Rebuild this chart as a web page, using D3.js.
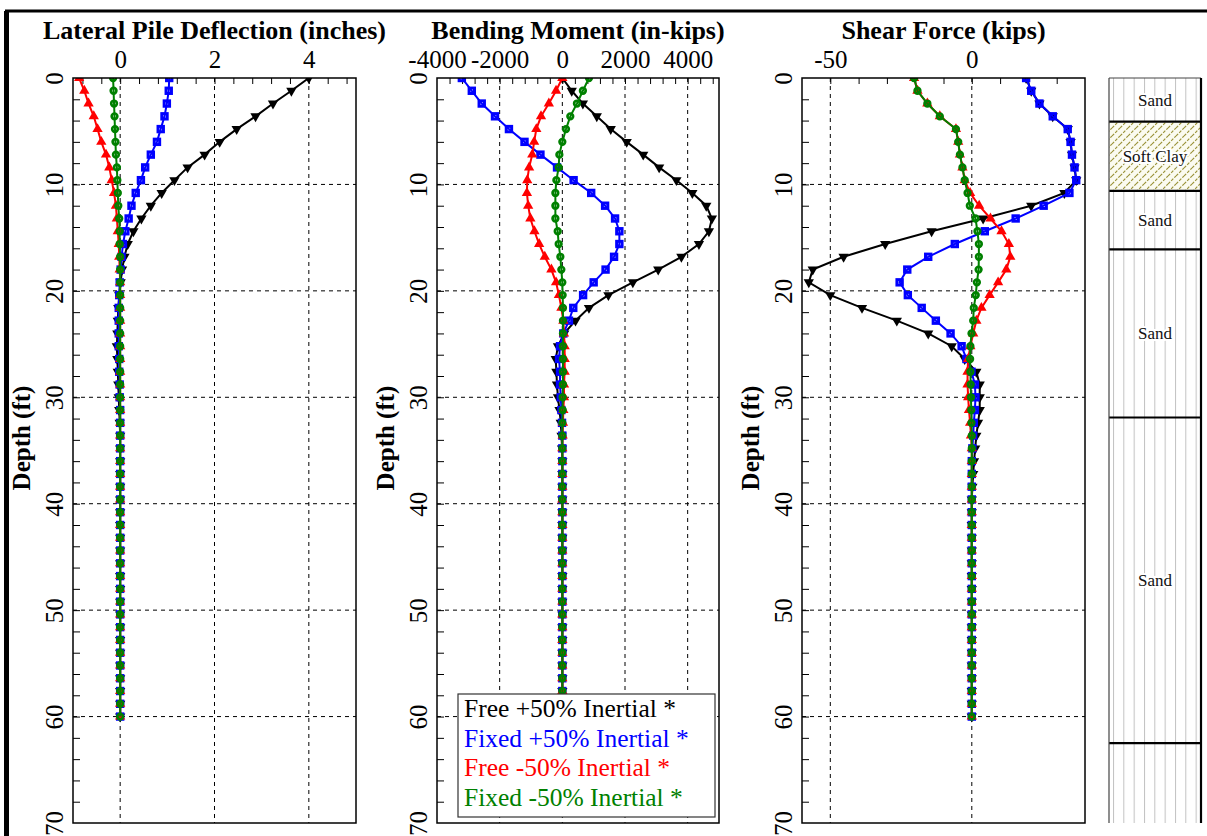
<!DOCTYPE html>
<html>
<head>
<meta charset="utf-8">
<script src="https://cdn.jsdelivr.net/npm/d3@7"></script>
<style>
body{margin:0;background:#fff;}
text{font-family:"Liberation Serif","Times New Roman",serif;}
</style>
</head>
<body>
<div id="chart"></div>
<script>
// depth of each pile node (ft)
const depth = [0,1.2,2.4,3.6,4.8,6,7.2,8.4,9.6,10.8,
  12,13.2,14.4,15.6,16.8,18,19.2,20.4,21.6,22.8,
  24,25.2,26.4,27.6,28.8,30,31.2,32.4,33.6,34.8,
  36,37.2,38.4,39.6,40.8,42,43.2,44.4,45.6,46.8,
  48,49.2,50.4,51.6,52.8,54,55.2,56.4,57.6,58.8,
  60];

const seriesNames = ['Free +50% Inertial *','Fixed +50% Inertial *','Free -50% Inertial *','Fixed -50% Inertial *'];

// lateral deflection (in)
const defFreePos = [4.00,3.63,3.24,2.87,2.47,2.11,1.79,1.43,1.15,0.88,
  0.65,0.45,0.28,0.16,0.09,0.04,0.01,-0.02,-0.04,-0.05,
  -0.06,-0.07,-0.06,-0.05,-0.04,-0.03,-0.02,-0.01,0,0,
  0,0,0,0,0,0,0,0,0,0,
  0,0,0,0,0,0,0,0,0,0,
  0];
const defFixedPos = [1.04,1.03,0.99,0.94,0.86,0.78,0.65,0.53,0.44,0.33,
  0.24,0.18,0.11,0.06,0.03,0.01,-0.01,-0.02,-0.03,-0.03,
  -0.03,-0.03,-0.02,-0.02,-0.01,-0.01,0,0,0,0,
  0,0,0,0,0,0,0,0,0,0,
  0,0,0,0,0,0,0,0,0,0,
  0];
const defFreeNeg = [-0.87,-0.76,-0.67,-0.56,-0.48,-0.40,-0.30,-0.23,-0.18,-0.13,
  -0.09,-0.07,-0.05,-0.03,-0.02,-0.01,0,0,0,0,
  0,0,0,0,0,0,0,0,0,0,
  0,0,0,0,0,0,0,0,0,0,
  0,0,0,0,0,0,0,0,0,0,
  0];
const defFixedNeg = [-0.15,-0.14,-0.13,-0.12,-0.11,-0.10,-0.09,-0.07,-0.06,-0.05,
  -0.04,-0.02,-0.01,-0.01,0,0,0,0,0,0,
  0,0,0,0,0,0,0,0,0,0,
  0,0,0,0,0,0,0,0,0,0,
  0,0,0,0,0,0,0,0,0,0,
  0];

// bending moment (in-kips)
const momFreePos = [0,300,656,1100,1545,2054,2582,3090,3641,4149,
  4594,4773,4678,4360,3800,3060,2250,1470,850,420,
  60,-140,-210,-190,-170,-140,-90,-50,-25,-10,
  0,0,0,0,0,0,0,0,0,0,
  0,0,0,0,0,0,0,0,0,0,
  0];
const momFixedPos = [-3207,-2889,-2572,-2149,-1704,-1207,-699,-169,360,921,
  1365,1683,1820,1820,1651,1380,1000,663,349,212,
  32,-74,-106,-74,-74,-50,-30,-10,0,0,
  0,0,0,0,0,0,0,0,0,0,
  0,0,0,0,0,0,0,0,0,0,
  0];
const momFreeNeg = [0,-200,-430,-680,-830,-900,-960,-1060,-1120,-1130,
  -1090,-1020,-890,-740,-560,-350,-200,-110,-30,32,
  53,74,74,74,53,53,32,20,10,0,
  0,0,0,0,0,0,0,0,0,0,
  0,0,0,0,0,0,0,0,0,0,
  0];
const momFixedNeg = [850,656,466,254,117,0,-95,-117,-190,-222,
  -222,-222,-148,-117,-63,-32,0,10,20,20,
  20,20,20,20,20,10,10,0,0,0,
  0,0,0,0,0,0,0,0,0,0,
  0,0,0,0,0,0,0,0,0,0,
  0];

// shear force (kips)
const shearFreePos = [19.2,21.0,23.9,28.6,33.9,34.9,35.4,36.3,36.9,32.7,
  21.0,4.0,-14.2,-30.6,-45.3,-56.2,-57.6,-50.0,-38.8,-26.5,
  -15.4,-7.1,-2.5,1.6,2.8,2.8,2.8,2.2,1.6,1.2,
  0.8,0.5,0.2,0,0,0,0,0,0,0,
  0,0,0,0,0,0,0,0,0,0,
  0];
const shearFixedPos = [19.2,21.0,23.9,28.6,33.9,34.9,35.4,36.3,36.9,34.5,
  25.4,15.5,4.6,-6.0,-15.4,-22.8,-25.5,-22.6,-17.7,-12.7,
  -7.5,-3.6,-1.9,-0.1,1.1,1.3,1.1,0.7,0.5,0.2,
  0,0,0,0,0,0,0,0,0,0,
  0,0,0,0,0,0,0,0,0,0,
  0];
const shearFreeNeg = [-20.4,-19.2,-15.7,-11.3,-5.6,-4.8,-4.2,-3.3,-2.5,-0.6,
  2.6,6.6,10.5,13.1,13.6,12.2,9.3,6.3,3.4,1.6,
  0.5,-0.5,-1.3,-1.5,-1.5,-1.3,-1.0,-0.6,-0.3,0,
  0,0,0,0,0,0,0,0,0,0,
  0,0,0,0,0,0,0,0,0,0,
  0];
const shearFixedNeg = [-20.4,-19.2,-15.7,-11.3,-5.6,-4.8,-4.2,-3.3,-2.5,-1.5,
  -0.7,1.3,2.0,2.5,2.5,2.4,1.8,1.4,0.7,0.5,
  -0.1,-0.5,-0.6,-0.5,-0.4,-0.3,-0.2,-0.1,0,0,
  0,0,0,0,0,0,0,0,0,0,
  0,0,0,0,0,0,0,0,0,0,
  0];

// tick labels
const defTicks = [0,2,4];
const momTicks = [-4000,-2000,0,2000,4000];
const shearTicks = [-50,0];
const depthTicks = [0,10,20,30,40,50,60,70];

// soil profile
const soilNames = ['Sand','Soft Clay','Sand','Sand','Sand',''];
const soilTops = [0,4.1,10.6,16.1,31.9,62.5];
const soilBottoms = [4.1,10.6,16.1,31.9,62.5,70];

const W = 1207, H = 836;
const plotTop = 78, plotBottom = 823;
const serif = '"Liberation Serif","Times New Roman",serif';
const colors = ['#000000','#0000ff','#ff0000','#008000'];
const markers = ['down','square','up','circle'];

const svg = d3.select('#chart')
  .append('svg')
  .attr('width',W)
  .attr('height',H);

const y = d3.scaleLinear().domain([0,70]).range([plotTop,plotBottom]);

const panels = [
  {title:'Lateral Pile Deflection (inches)', x0:73, x1:356, domain:[-1,5], minor:d3.range(-0.8,5,0.4), ticks:defTicks,
   series:[defFreePos,defFixedPos,defFreeNeg,defFixedNeg]},
  {title:'Bending Moment (in-kips)', x0:437, x1:719, domain:[-4000,5000], minor:d3.range(-3600,5000,400), ticks:momTicks,
   series:[momFreePos,momFixedPos,momFreeNeg,momFixedNeg]},
  {title:'Shear Force (kips)', x0:802, x1:1085, domain:[-60,40], minor:d3.range(-50,40,10), ticks:shearTicks,
   series:[shearFreePos,shearFixedPos,shearFreeNeg,shearFixedNeg]}
];

const defs = svg.append('defs');

panels.forEach(function(p,pi){
  const x = d3.scaleLinear().domain(p.domain).range([p.x0,p.x1]);
  const g = svg.append('g');

  defs.append('clipPath').attr('id','clip'+pi)
    .append('rect').attr('x',p.x0).attr('y',plotTop).attr('width',p.x1-p.x0).attr('height',plotBottom-plotTop);

  // dashed grid
  g.append('g').selectAll('line')
    .data(p.ticks.filter(v => v>p.domain[0] && v<p.domain[1]))
    .join('line')
    .attr('x1',d=>x(d)).attr('x2',d=>x(d))
    .attr('y1',plotTop).attr('y2',plotBottom)
    .attr('stroke','#000').attr('stroke-width',1).attr('stroke-dasharray','4,4');
  g.append('g').selectAll('line')
    .data(depthTicks.filter(v => v>0 && v<70))
    .join('line')
    .attr('x1',p.x0).attr('x2',p.x1)
    .attr('y1',d=>y(d)).attr('y2',d=>y(d))
    .attr('stroke','#000').attr('stroke-width',1).attr('stroke-dasharray','4,4');

  // minor ticks pointing into the plot
  g.append('g')
    .attr('transform',`translate(0,${plotTop})`)
    .call(d3.axisTop(x).tickValues(p.minor).tickSize(-6).tickFormat(''))
    .call(a => a.select('.domain').remove());
  g.append('g')
    .attr('transform',`translate(${p.x0},0)`)
    .call(d3.axisLeft(y).tickValues(d3.range(2,70,2)).tickSize(-7).tickFormat(''))
    .call(a => a.select('.domain').remove());

  // tick labels
  const xa = g.append('g')
    .attr('transform',`translate(0,${plotTop})`)
    .call(d3.axisTop(x).tickValues(p.ticks).tickSize(0).tickPadding(10).tickFormat(d => String(d)));
  xa.select('.domain').remove();
  xa.selectAll('text').attr('font-size',25).attr('font-family',serif).attr('fill','#000');

  const ya = g.append('g')
    .attr('transform',`translate(${p.x0},0)`)
    .call(d3.axisLeft(y).tickValues(depthTicks).tickSize(0).tickFormat(d => String(d)));
  ya.select('.domain').remove();
  ya.selectAll('text')
    .attr('x',null).attr('dy',null)
    .attr('transform','translate(-10,0) rotate(-90)')
    .attr('text-anchor','middle')
    .attr('font-size',25).attr('font-family',serif).attr('fill','#000');

  g.append('text')
    .attr('x',(p.x0+p.x1)/2).attr('y',39)
    .attr('text-anchor','middle')
    .attr('font-family',serif)
    .attr('font-size',26).attr('font-weight','bold')
    .text(p.title);

  g.append('text')
    .attr('transform',`translate(${p.x0-43},438) rotate(-90)`)
    .attr('text-anchor','middle')
    .attr('font-family',serif)
    .attr('font-size',25).attr('font-weight','bold')
    .text('Depth (ft)');

  // curves
  const curves = g.append('g').attr('clip-path',`url(#clip${pi})`);
  const line = d3.line().x(d=>x(d[0])).y(d=>y(d[1]));
  p.series.forEach(function(vals,si){
    const pts = vals.map((v,i)=>[v,depth[i]]);
    const col = colors[si];
    curves.append('path').datum(pts)
      .attr('d',line).attr('fill','none').attr('stroke',col).attr('stroke-width',2);
    const m = curves.append('g');
    if(markers[si]==='down' || markers[si]==='up'){
      m.selectAll('path').data(pts).join('path')
        .attr('d',d3.symbol(d3.symbolTriangle,46))
        .attr('transform',d=>`translate(${x(d[0])},${y(d[1])})`+(markers[si]==='down'?' rotate(180)':''))
        .attr('fill',col);
    } else if(markers[si]==='square'){
      m.selectAll('rect').data(pts).join('rect')
        .attr('x',d=>x(d[0])-2.7).attr('y',d=>y(d[1])-2.7)
        .attr('width',5.4).attr('height',5.4)
        .attr('fill','none').attr('stroke',col).attr('stroke-width',3);
    } else {
      m.selectAll('circle').data(pts).join('circle')
        .attr('cx',d=>x(d[0])).attr('cy',d=>y(d[1])).attr('r',2.8)
        .attr('fill','none').attr('stroke',col).attr('stroke-width',2.7);
    }
  });

  g.append('rect')
    .attr('x',p.x0).attr('y',plotTop).attr('width',p.x1-p.x0).attr('height',plotBottom-plotTop)
    .attr('fill','none').attr('stroke','#000').attr('stroke-width',1.5);
});

// legend on the moment panel
const legend = svg.append('g');
legend.append('rect')
  .attr('x',458).attr('y',694).attr('width',257).attr('height',123)
  .attr('fill','#fff').attr('stroke','#333').attr('stroke-width',1.2);
legend.selectAll('text').data(seriesNames).join('text')
  .attr('x',464).attr('y',(d,i)=>717+i*29.7)
  .attr('font-family',serif)
  .attr('font-size',25.5)
  .attr('fill',(d,i)=>colors[i])
  .text(d=>d);

// soil column
const sx0 = 1109, sx1 = 1201;
const sand = defs.append('pattern').attr('id','sand').attr('patternUnits','userSpaceOnUse')
  .attr('x',1113).attr('y',0).attr('width',10.33).attr('height',20);
sand.append('rect').attr('width',10.33).attr('height',20).attr('fill','#fff');
sand.append('line').attr('x1',0.5).attr('x2',0.5).attr('y1',0).attr('y2',20)
  .attr('stroke','#c2c2c2').attr('stroke-width',1);
const clay = defs.append('pattern').attr('id','clay').attr('patternUnits','userSpaceOnUse')
  .attr('width',8).attr('height',8);
clay.append('rect').attr('width',8).attr('height',8).attr('fill','#fbfbf0');
clay.append('path').attr('d','M0,8L8,0M-2,2L2,-2M6,10L10,6')
  .attr('stroke','#9a9238').attr('stroke-width',1.2).attr('stroke-dasharray','3,1.5');

const soil = svg.append('g');
soil.selectAll('rect').data(soilNames).join('rect')
  .attr('x',sx0).attr('width',sx1-sx0)
  .attr('y',(d,i)=>y(soilTops[i]))
  .attr('height',(d,i)=>y(soilBottoms[i])-y(soilTops[i]))
  .attr('fill',d=>d==='Soft Clay'?'url(#clay)':'url(#sand)');
soil.selectAll('line.bound').data(soilTops.slice(1)).join('line')
  .attr('class','bound')
  .attr('x1',sx0).attr('x2',sx1)
  .attr('y1',d=>y(d)).attr('y2',d=>y(d))
  .attr('stroke','#000').attr('stroke-width',2.2);
soil.append('line').attr('x1',sx0).attr('x2',sx1).attr('y1',plotTop).attr('y2',plotTop)
  .attr('stroke','#444').attr('stroke-width',1);
soil.append('line').attr('x1',sx0).attr('x2',sx0).attr('y1',plotTop).attr('y2',plotBottom)
  .attr('stroke','#444').attr('stroke-width',1.2);
soil.append('line').attr('x1',sx1).attr('x2',sx1).attr('y1',plotTop).attr('y2',plotBottom)
  .attr('stroke','#000').attr('stroke-width',2.2);
soil.selectAll('text').data(soilNames).join('text')
  .attr('x',(sx0+sx1)/2)
  .attr('y',(d,i)=>(y(soilTops[i])+y(soilBottoms[i]))/2+6)
  .attr('text-anchor','middle')
  .attr('font-family',serif)
  .attr('font-size',17)
  .attr('stroke','#fff').attr('stroke-width',4).attr('paint-order','stroke')
  .attr('fill','#111')
  .text(d=>d);

// outer frame
svg.append('path')
  .attr('d',`M6.5,${H}V11H${W}`)
  .attr('fill','none').attr('stroke','#000').attr('stroke-width',3);
svg.append('line').attr('x1',6.5).attr('x2',6.5).attr('y1',11).attr('y2',H)
  .attr('stroke','#000').attr('stroke-width',5);
</script>
</body>
</html>
